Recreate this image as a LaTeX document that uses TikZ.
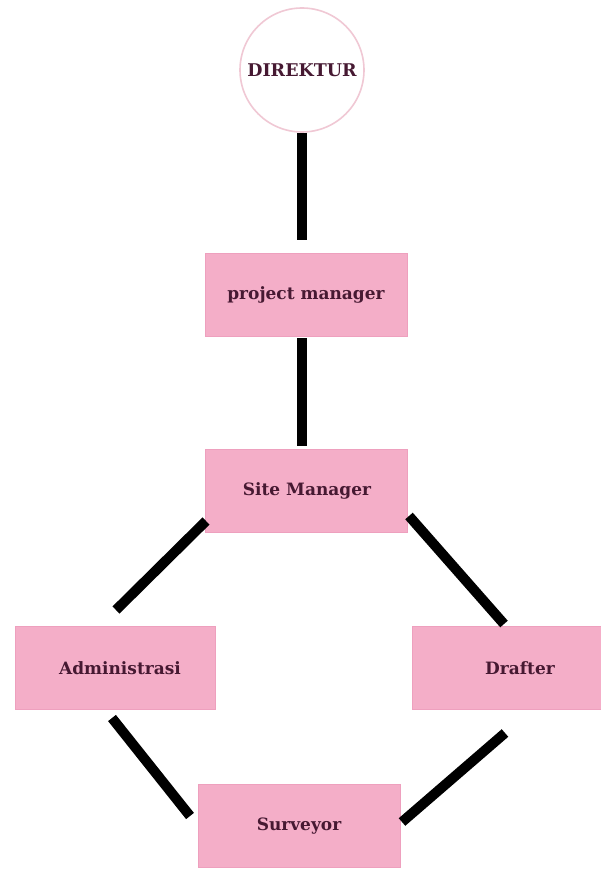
\documentclass[tikz,border=0pt]{standalone}
\usepackage{fontspec}
\setmainfont{DejaVu Serif}
\definecolor{boxpink}{RGB}{244,174,200}
\definecolor{boxedge}{RGB}{238,160,190}
\definecolor{ringpink}{RGB}{240,200,212}
\definecolor{txt}{RGB}{70,25,50}
\tikzset{
  rolebox/.style={draw=boxedge, line width=1pt, fill=boxpink, minimum width=#1, minimum height=83pt, inner sep=0pt, font=\bfseries\fontsize{17}{19}\selectfont, text=txt},
  rolebox/.default=202pt,
  conn/.style={line width=10pt, black},
}
\begin{document}
\begin{tikzpicture}[x=1pt,y=-1pt]
\useasboundingbox[fill=white] (0,0) rectangle (600,869);
\node[circle, draw=ringpink, line width=1.6pt, fill=white, minimum size=124pt, inner sep=0pt, font=\bfseries\fontsize{17.5}{19}\selectfont, text=txt] (dir) at (302,70) {DIREKTUR};
\node[rolebox] (pm) at (306,295) {project manager};
\node[rolebox] (sm) at (306,491) {\hspace*{2pt}Site Manager};
\node[rolebox=200pt] (adm) at (115,668) {\hspace*{10pt}Administrasi};
\node[rolebox=200pt] (dra) at (512,668) {\hspace*{16pt}Drafter};
\node[rolebox=202pt] (sur) at (299,826) {Surveyor};
\coordinate (c1) at (302,133);
\coordinate (c2) at (302,240);
\coordinate (c3) at (302,338);
\coordinate (c4) at (302,446);
\coordinate (c5) at (206,521);
\coordinate (c6) at (116,610);
\coordinate (c7) at (409,516);
\coordinate (c8) at (504,624);
\coordinate (c9) at (112,718);
\coordinate (c10) at (190,816);
\coordinate (c11) at (505,733);
\coordinate (c12) at (402,822);
\draw[conn] (c1) -- (c2);
\draw[conn] (c3) -- (c4);
\draw[conn] (c5) -- (c6);
\draw[conn] (c7) -- (c8);
\draw[conn] (c9) -- (c10);
\draw[conn] (c11) -- (c12);
\end{tikzpicture}
\end{document}
